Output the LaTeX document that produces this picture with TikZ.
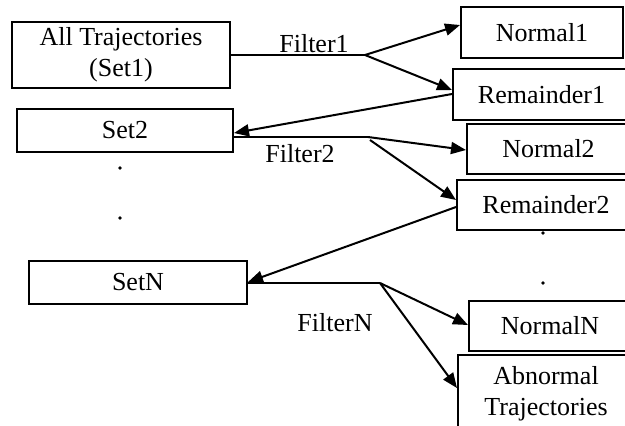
\documentclass[tikz,border=0pt]{standalone}
\usepackage{fontspec}
\setmainfont{Liberation Serif}
\usetikzlibrary{arrows.meta}
\begin{document}
\begin{tikzpicture}[x=0.5pt,y=-0.5pt,
  every node/.style={font=\fontsize{13}{15.5}\selectfont},
  box/.style={draw,line width=1pt,inner sep=0pt,align=center,
    minimum height=#1*0.5pt},
  box/.default=50,
  link/.style={line width=1pt},
  arr/.style={link,-{Triangle[length=7.5pt,width=6pt]}},
  lbl/.style={inner sep=0pt}]
\useasboundingbox (0,0) rectangle (625,425);
\clip (0,0) rectangle (625,425);

% sets on the left
\node[box=66,minimum width=109pt] (all) at (121,55) {All Trajectories\\(Set1)};
\node[box=43,minimum width=108pt] (set2) at (125,130.5) {Set2};
\node[box=43,minimum width=109pt] (setN) at (138,282.5) {SetN};

% filter outputs on the right
\node[box=51,minimum width=81pt] (n1) at (542,32.5) {Normal1};
\node[box=51,minimum width=88.5pt] (r1) at (541.5,94.5) {Remainder1};
\node[box=50,minimum width=81.5pt] (n2) at (548.5,149) {Normal2};
\node[box=50,minimum width=89pt] (r2) at (546,205) {Remainder2};
\node[box=50,minimum width=81pt] (nN) at (550,326) {NormalN};
\node[box=77,minimum width=88pt] (ab) at (546,393.5) {Abnormal\\Trajectories};

% ellipsis dots
\fill (120,168) circle (1.8);
\fill (120,218) circle (1.8);
\fill (543,233) circle (1.8);
\fill (543,283) circle (1.8);

% branch points
\coordinate (b1) at (365,55);
\coordinate (b2) at (368,137);
\coordinate (b2b) at (370,140);
\coordinate (bN) at (380,283);

% filter 1
\draw[link] (all.east |- b1) -- (b1);
\draw[arr] (b1) -- (n1.west |- 0,25);
\draw[arr] (b1) -- (r1.west |- 0,90);
\draw[arr] (r1.west |- 0,94) -- (set2.east |- 0,133);
\node[lbl] (f1) at (314,44) {Filter1};

% filter 2
\draw[link] (set2.east |- b2) -- (b2);
\draw[arr] (b2) -- (n2.west |- 0,150);
\draw[arr] (b2b) -- (r2.west |- 0,200);
\draw[arr] (r2.west |- 0,207) -- (setN.east |- 0,282);
\node[lbl] (f2) at (300,154) {Filter2};

% filter N
\draw[link] (setN.east |- bN) -- (bN);
\draw[arr] (bN) -- (nN.west |- 0,325);
\draw[arr] (bN) -- (ab.west |- 0,388);
\node[lbl] (fN) at (335,323) {FilterN};
\end{tikzpicture}
\end{document}
